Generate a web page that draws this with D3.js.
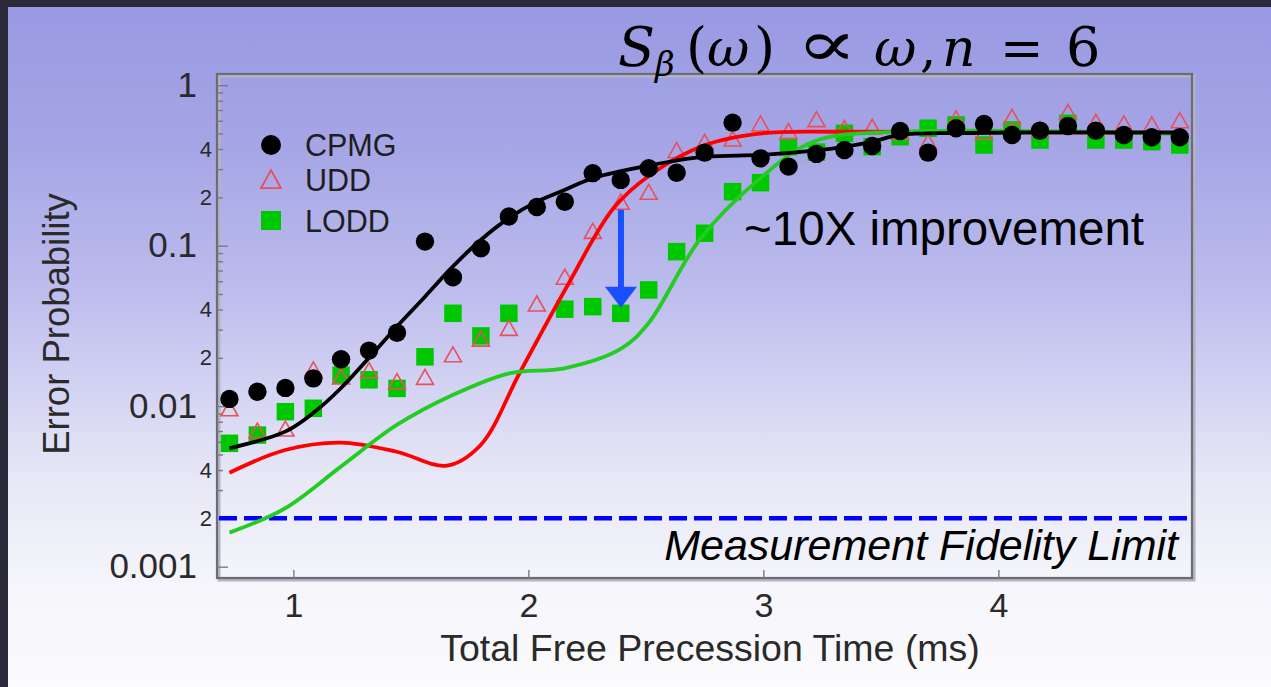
<!DOCTYPE html>
<html><head><meta charset="utf-8">
<script src="https://cdn.jsdelivr.net/npm/d3@7/dist/d3.min.js"></script>
<style>html,body{margin:0;padding:0;overflow:hidden;background:#fff}</style>
</head><body>
<svg id="chart" width="1271" height="687"></svg>
<script>
// ---------- data ----------
const times = [0.728,0.847,0.966,1.085,1.203,1.322,1.441,1.560,1.679,1.798,1.917,2.036,2.155,2.274,2.393,2.512,2.631,2.750,2.869,2.988,3.107,3.226,3.345,3.463,3.582,3.701,3.820,3.939,4.058,4.177,4.296,4.415,4.534,4.653,4.772];
const cpmg = [0.0111,0.0123,0.0130,0.0149,0.0196,0.0222,0.0287,0.106,0.0636,0.0963,0.152,0.174,0.188,0.283,0.257,0.3035,0.285,0.380,0.584,0.350,0.311,0.373,0.395,0.418,0.518,0.380,0.539,0.573,0.489,0.521,0.557,0.521,0.489,0.474,0.474];
const udd  = [0.0095,0.0069,0.0071,0.0166,0.0150,0.0164,0.0140,0.0149,0.0206,0.0258,0.0301,0.0427,0.0627,0.121,0.184,0.212,0.385,0.4345,0.455,0.565,0.506,0.601,0.53,0.539,0.50,0.4345,0.607,0.50,0.622,0.52,0.668,0.579,0.565,0.557,0.592];
const lodd = [0.00587,0.00661,0.00924,0.0097,0.0156,0.0146,0.0129,0.0203,0.0379,0.0274,0.0379,null,0.0402,0.0417,0.0379,0.053,0.0918,0.1195,0.217,0.247,0.414,0.383,0.5015,0.414,0.4777,0.539,0.565,0.424,0.526,0.4555,0.579,0.4555,0.4555,0.4446,0.424];

const cpmgFitT = [0.728,0.965,1.083,1.202,1.320,1.440,1.560,1.678,1.797,1.915,2.036,2.153,2.274,2.515,2.752,2.990,3.227,3.347,3.465,3.581,3.837,4.777];
const cpmgFitV = [0.00546,0.00694,0.00903,0.01293,0.01988,0.03128,0.0481,0.074,0.1085,0.1481,0.188,0.2223,0.263,0.316,0.3585,0.3674,0.3919,0.414,0.4446,0.4894,0.5037,0.5073];
const uddFitT = [0.728,0.965,1.202,1.440,1.653,1.797,1.965,2.163,2.362,2.518,2.752,2.993,3.348,4.777];
const uddFitV = [0.00385,0.00533,0.00593,0.0052,0.00426,0.00573,0.01633,0.0553,0.171,0.2758,0.424,0.5015,0.513,0.502];
const loddFitT = [0.728,0.965,1.202,1.440,1.678,1.919,2.153,2.393,2.511,2.728,2.970,3.213,3.582,4.777];
const loddFitV = [0.00163,0.002312,0.0042,0.007637,0.01174,0.01603,0.01722,0.02272,0.03285,0.1085,0.2505,0.4446,0.513,0.4966];

const seriesNames = ["CPMG","UDD","LODD"];
const xTicks = [1,2,3,4];
const xTickLabels = ["1","2","3","4"];
const yMajorTicks = [1,0.1,0.01,0.001];
const yMajorLabels = ["1","0.1","0.01","0.001"];
const yMinorTicks = [0.9,0.8,0.7,0.6,0.5,0.4,0.3,0.2,0.09,0.08,0.07,0.06,0.05,0.04,0.03,0.02,0.009,0.008,0.007,0.006,0.005,0.004,0.003,0.002];
const yMinorLabeled = {0.4:"4",0.2:"2",0.04:"4",0.02:"2",0.004:"4",0.002:"2"};
const fidelityLimit = 0.002;
const arrowT = 2.394, arrowFrom = 0.167, arrowTo = 0.041;
const xTitle = "Total Free Precession Time (ms)";
const yTitle = "Error Probability";
const annotation = "~10X improvement";
const limitLabel = "Measurement Fidelity Limit";

// ---------- layout ----------
const W = 1271, H = 687;
const L = 217, R = 1192, T = 74, B = 578;
const svg = d3.select("#chart");
const defs = svg.append("defs");
const grad = defs.append("linearGradient").attr("id","bg").attr("x1",0).attr("y1",0).attr("x2",0).attr("y2",1);
[[0,"#9999e3"],[0.2,"#a4a4e6"],[0.42,"#bcbced"],[0.56,"#d2d2f3"],[0.7,"#e8e8f7"],[0.85,"#f5f5fb"],[1,"#fbfbfd"]]
  .forEach(([o,c])=>grad.append("stop").attr("offset",o).attr("stop-color",c));
defs.append("clipPath").attr("id","clip").append("rect").attr("x",L).attr("y",T).attr("width",R-L).attr("height",B-T);

svg.append("rect").attr("width",W).attr("height",H).attr("fill","url(#bg)");
svg.append("rect").attr("width",W).attr("height",7).attr("fill","#29293a");
svg.append("rect").attr("width",8).attr("height",H).attr("fill","#29293a");

const x = d3.scaleLinear().domain([0.675,4.824]).range([L,R]);
const y = d3.scaleLog().domain([0.00085,1.174]).range([B,T]);

svg.append("rect").attr("x",L+2).attr("y",T+2).attr("width",R-L).attr("height",B-T)
  .attr("fill","none").attr("stroke","#b4b4c4").attr("stroke-width",3);
svg.append("rect").attr("x",L).attr("y",T).attr("width",R-L).attr("height",B-T)
  .attr("fill","none").attr("stroke","#6c6c74").attr("stroke-width",2.2);

const font = "'Liberation Sans', Arial, sans-serif";

const yMinor = svg.append("g").attr("transform",`translate(${L},0)`)
  .call(d3.axisLeft(y).tickValues(yMinorTicks).tickSize(-6).tickPadding(5)
    .tickFormat(d => yMinorLabeled[d] || ""));
const yMajor = svg.append("g").attr("transform",`translate(${L},0)`)
  .call(d3.axisLeft(y).tickValues(yMajorTicks).tickSize(-11).tickPadding(20)
    .tickFormat(d => yMajorLabels[yMajorTicks.indexOf(d)]));
const xAx = svg.append("g").attr("transform",`translate(0,${B})`)
  .call(d3.axisBottom(x).tickValues(xTicks).tickSize(-8).tickPadding(15)
    .tickFormat(d => xTickLabels[xTicks.indexOf(d)]));
[yMinor,yMajor,xAx].forEach(g=>{
  g.select(".domain").remove();
  g.selectAll(".tick line").attr("stroke","#7a7a80").attr("stroke-width",1.4);
  g.selectAll("text").attr("fill","#2a2a2a").attr("font-family",font);
});
yMinor.selectAll("text").attr("font-size",22);
yMajor.selectAll("text").attr("font-size",35);
xAx.selectAll("text").attr("font-size",34);

svg.append("text").attr("x",710).attr("y",661).attr("text-anchor","middle")
  .attr("font-family",font).attr("font-size",37.5).attr("fill","#2a2a2a").text(xTitle);
svg.append("text").attr("transform","translate(69,324) rotate(-90)").attr("text-anchor","middle")
  .attr("font-family",font).attr("font-size",36.5).attr("fill","#2a2a2a").text(yTitle);

const plot = svg.append("g").attr("clip-path","url(#clip)");

plot.append("line").attr("x1",L+2).attr("x2",R).attr("y1",y(fidelityLimit)).attr("y2",y(fidelityLimit))
  .attr("stroke","#0000ff").attr("stroke-width",4.5).attr("stroke-dasharray","18,7");

const line = d3.line().x(d=>x(d[0])).y(d=>y(d[1])).curve(d3.curveCatmullRom.alpha(0.5));
const zip = (a,b)=>a.map((t,i)=>[t,b[i]]);

const sq = 17.5;
plot.selectAll(".lodd").data(zip(times,lodd).filter(d=>d[1]!=null)).enter().append("rect")
  .attr("x",d=>x(d[0])-sq/2).attr("y",d=>y(d[1])-sq/2).attr("width",sq).attr("height",sq)
  .attr("fill","#00c800");
const tri = (cx,cy,w,h)=>`M${cx},${cy-h*0.6}L${cx+w/2},${cy+h*0.4}L${cx-w/2},${cy+h*0.4}Z`;
plot.selectAll(".udd").data(zip(times,udd)).enter().append("path")
  .attr("d",d=>tri(x(d[0]),y(d[1]),17,15)).attr("fill","none")
  .attr("stroke","#e8505c").attr("stroke-width",1.6);

plot.append("path").attr("d",line(zip(uddFitT,uddFitV))).attr("fill","none").attr("stroke","#ff0000").attr("stroke-width",3.8);
plot.append("path").attr("d",line(zip(loddFitT,loddFitV))).attr("fill","none").attr("stroke","#22cc22").attr("stroke-width",3.8);
plot.append("path").attr("d",line(zip(cpmgFitT,cpmgFitV))).attr("fill","none").attr("stroke","#000").attr("stroke-width",3.8);

plot.selectAll(".cpmg").data(zip(times,cpmg)).enter().append("circle")
  .attr("cx",d=>x(d[0])).attr("cy",d=>y(d[1])).attr("r",9.2).attr("fill","#000");

const ax = x(arrowT), ay1 = y(arrowFrom), ay2 = y(arrowTo);
svg.append("line").attr("x1",ax).attr("x2",ax).attr("y1",ay1).attr("y2",ay2-16)
  .attr("stroke","#1a4fff").attr("stroke-width",6);
svg.append("path").attr("d",`M${ax-16},${ay2-21}L${ax+16},${ay2-21}L${ax},${ay2}Z`).attr("fill","#1a4fff");

svg.append("text").attr("x",744).attr("y",245).attr("font-family",font).attr("font-size",47.5)
  .attr("fill","#000").text(annotation);
svg.append("text").attr("x",1178).attr("y",560).attr("text-anchor","end").attr("font-family",font)
  .attr("font-style","italic").attr("font-size",43).attr("fill","#000").text(limitLabel);

const lg = svg.append("g");
const lx = 271, lrows = [145,180,221];
lg.append("circle").attr("cx",lx).attr("cy",lrows[0]).attr("r",10).attr("fill","#000");
lg.append("path").attr("d",tri(lx,lrows[1]+1,20,18)).attr("fill","none").attr("stroke","#e8505c").attr("stroke-width",1.8);
lg.append("rect").attr("x",lx-10).attr("y",lrows[2]-10).attr("width",20).attr("height",19).attr("fill","#00c800");
seriesNames.forEach((n,i)=>lg.append("text").attr("x",305).attr("y",lrows[i]).attr("dy","0.36em")
  .attr("font-family",font).attr("font-size",30.5).attr("fill","#1e1e1e").text(n));

// title  S_β(ω) ∝ ω, n = 6
const title = svg.append("g").attr("font-family","'DejaVu Serif',serif").attr("fill","#000");
const pieces = [
  {t:"S",x:618,it:true,fs:54},{t:"β",x:655,it:true,sub:true,fs:34},{t:"(",x:686,fs:54},{t:"ω",x:707,it:true,fs:52},{t:")",x:754,fs:54},
  {t:"ω",x:874,it:true,fs:52},{t:",",x:920,fs:52},{t:"n",x:942,it:true,fs:52},{t:"=",x:1000,fs:52},{t:"6",x:1066,fs:54}
];
pieces.forEach(p=>title.append("text").attr("x",p.x).attr("y",p.sub?76:66)
  .attr("font-size",p.fs).attr("font-style",p.it?"italic":"normal").text(p.t));
title.append("text").attr("transform","translate(796,66) scale(1.75,1.25)")
  .attr("font-size",52).text("∝");
</script>
</body></html>
